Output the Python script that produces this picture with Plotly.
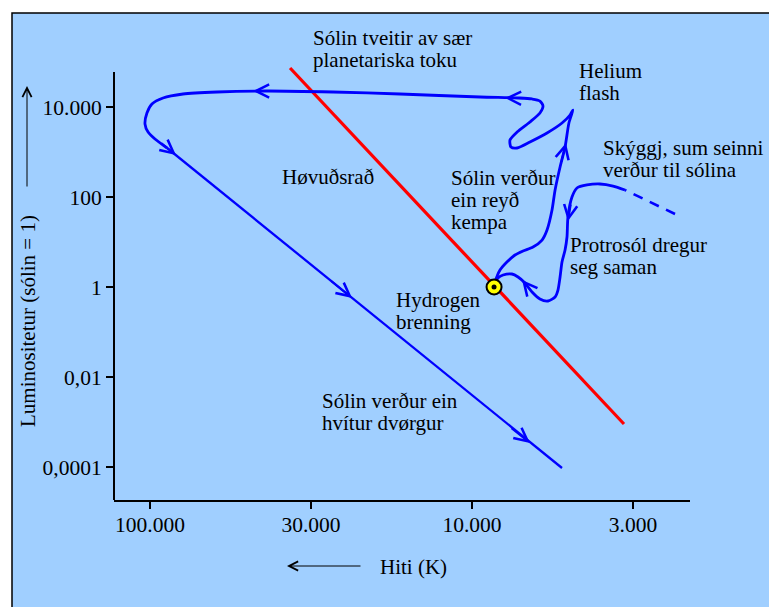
import numpy as np
import plotly.graph_objects as go

# ---------------- data ----------------
# x = position on the (schematic) temperature scale: 0 -> 100.000 K, 1 -> 30.000 K, 2 -> 10.000 K, 3 -> 3.000 K
# y = log10 of luminosity (sun = 1)
temp_ticks = [0, 1, 2, 3]
temp_labels = ["100.000", "30.000", "10.000", "3.000"]
lum_ticks = [1e4, 1e2, 1, 1e-2, 1e-4]
lum_labels = ["10.000", "100", "1", "0,01", "0,0001"]

main_seq_t = [0.870, 2.944]
main_seq_logl = [4.867, -3.044]

sun_t = [2.137]
sun_logl = [0.0]

proto_dash_t = [3.261, 3.106, 2.950]
proto_dash_logl = [1.622, 1.889, 2.156]

proto_t = [2.950, 2.876, 2.795, 2.714, 2.652, 2.621, 2.596, 2.590, 2.578, 2.559, 2.547,
           2.534, 2.516, 2.472, 2.422, 2.373, 2.329, 2.286, 2.248, 2.193, 2.161, 2.137]
proto_logl = [2.156, 2.244, 2.289, 2.267, 2.200, 2.000, 1.556, 1.111, 0.822, 0.556, 0.222,
              -0.067, -0.222, -0.311, -0.267, -0.111, 0.089, 0.222, 0.289, 0.267, 0.200, 0.02]

giant_t = [2.137, 2.143, 2.174, 2.217, 2.267, 2.317, 2.379, 2.435, 2.466, 2.497, 2.516, 2.547,
           2.578, 2.602, 2.627, 2.609, 2.559, 2.466, 2.360, 2.280, 2.242, 2.236, 2.280, 2.360,
           2.422, 2.441, 2.422, 2.373, 2.298, 2.050, 1.553, 1.137, 0.727, 0.416, 0.205, 0.081,
           0.012, -0.019, -0.031, -0.012, 0.031, 0.106]
giant_logl = [0.02, 0.111, 0.378, 0.556, 0.711, 0.800, 0.889, 1.044, 1.267, 1.711, 2.156, 2.667,
              3.111, 3.644, 3.933, 3.822, 3.644, 3.422, 3.222, 3.089, 3.111, 3.267, 3.444, 3.667,
              3.867, 4.022, 4.133, 4.178, 4.200, 4.222, 4.289, 4.333, 4.356, 4.333, 4.289, 4.200,
              4.067, 3.867, 3.622, 3.444, 3.289, 3.089]

dwarf_t = [0.106, 2.559]
dwarf_logl = [3.089, -4.022]

arrow_tip_t = [2.205, 0.640, 0.161, 1.255, 2.360, 2.584, 2.596, 2.311]
arrow_tip_logl = [4.200, 4.356, 2.933, -0.244, -3.467, 3.200, 1.467, 0.156]
arrow_tail_t = [2.329, 0.776, 0.062, 1.118, 2.236, 2.553, 2.615, 2.373]
arrow_tail_logl = [4.193, 4.356, 3.222, 0.156, -3.111, 2.756, 1.867, -0.111]

# ---------------- style / layout ----------------
OFF = 8                      # page body margin
W, H = 777 - OFF, 607 - OFF
X_LEFT, X_RIGHT, Y_TOP, Y_BOT = 114, 690, 62, 500   # plot area in window pixels
PL, PR = X_LEFT - OFF, W - (X_RIGHT - OFF)
PT, PB = Y_TOP - OFF, H - (Y_BOT - OFF)
PLOT_W = X_RIGHT - X_LEFT
PLOT_H = Y_BOT - Y_TOP
BG = "#a0cfff"
BLUE = "#0000ff"
RED = "#ff0000"
FONT = "Liberation Serif, Times New Roman, serif"
FS = 21
TFS = 21.5


def pxx(px):
    return (px - X_LEFT) / PLOT_W


def pxy(py):
    return (Y_BOT - py) / PLOT_H


def lum(a):
    return 10 ** np.array(a, dtype=float)


fig = go.Figure()

fig.add_trace(go.Scatter(x=main_seq_t, y=lum(main_seq_logl), mode="lines",
                         line=dict(color=RED, width=3.2), hoverinfo="skip"))
fig.add_trace(go.Scatter(x=proto_dash_t, y=lum(proto_dash_logl), mode="lines",
                         line=dict(color=BLUE, width=2.6, dash="10px,8px"), hoverinfo="skip"))
fig.add_trace(go.Scatter(x=proto_t, y=lum(proto_logl), mode="lines",
                         line=dict(color=BLUE, width=2.8, shape="spline", smoothing=0.7),
                         hoverinfo="skip"))
fig.add_trace(go.Scatter(x=giant_t, y=lum(giant_logl), mode="lines",
                         line=dict(color=BLUE, width=2.8, shape="spline", smoothing=0.7),
                         hoverinfo="skip"))
fig.add_trace(go.Scatter(x=dwarf_t, y=lum(dwarf_logl), mode="lines",
                         line=dict(color=BLUE, width=2.3), hoverinfo="skip"))
fig.add_trace(go.Scatter(x=sun_t, y=lum(sun_logl), mode="markers",
                         marker=dict(size=15, color="#ffff00", line=dict(color="black", width=2)),
                         hoverinfo="skip"))
fig.add_trace(go.Scatter(x=sun_t, y=lum(sun_logl), mode="markers",
                         marker=dict(size=5, color="black"), hoverinfo="skip"))

annotations = []
for xt, yt, xa, ya in zip(arrow_tip_t, arrow_tip_logl, arrow_tail_t, arrow_tail_logl):
    annotations.append(dict(x=xt, y=yt, ax=xa, ay=ya, xref="x", yref="y", axref="x", ayref="y",
                            text="", showarrow=True, arrowhead=5, arrowsize=1.3, arrowwidth=2,
                            arrowcolor=BLUE, standoff=0))

text_lines = [
    ("Sólin tveitir av sær", 311, 38),
    ("planetariska toku", 311, 60),
    ("Helium", 577, 71),
    ("flash", 577, 93),
    ("Skýggj, sum seinni", 601, 148),
    ("verður til sólina", 601, 170),
    ("Høvuðsrað", 280, 177),
    ("Sólin verður", 449, 178),
    ("ein reyð", 449, 200),
    ("kempa", 449, 222),
    ("Protrosól dregur", 568, 245),
    ("seg saman", 568, 267),
    ("Hydrogen", 394, 300),
    ("brenning", 394, 322),
    ("Sólin verður ein", 320, 401),
    ("hvítur dvørgur", 320, 423),
]
for txt, px, py in text_lines:
    annotations.append(dict(text=txt, x=pxx(px), y=pxy(py), xref="paper", yref="paper",
                            xanchor="left", yanchor="middle", showarrow=False,
                            font=dict(family=FONT, size=FS, color="black")))

# axis titles and their arrows
annotations.append(dict(text="Luminositetur (sólin = 1)", x=pxx(28), y=pxy(321),
                        xref="paper", yref="paper", xanchor="center", yanchor="middle",
                        textangle=-90, showarrow=False,
                        font=dict(family=FONT, size=FS, color="black")))
annotations.append(dict(text="", x=pxx(27), y=pxy(86), xref="paper", yref="paper",
                        ax=0, ay=102, showarrow=True, arrowhead=5, arrowsize=1.8,
                        arrowwidth=1, arrowcolor="black", standoff=0))
annotations.append(dict(text="Hiti (K)", x=pxx(413), y=pxy(567), xref="paper", yref="paper",
                        xanchor="center", yanchor="middle", showarrow=False,
                        font=dict(family=FONT, size=FS, color="black")))
annotations.append(dict(text="", x=pxx(287), y=pxy(566), xref="paper", yref="paper",
                        ax=75, ay=0, showarrow=True, arrowhead=5, arrowsize=1.8,
                        arrowwidth=1, arrowcolor="black", standoff=0))

shapes = [
    dict(type="rect", xref="paper", yref="paper", x0=pxx(12), x1=pxx(800), y0=pxy(640),
         y1=pxy(13), fillcolor=BG, line=dict(color="black", width=1.5), layer="below"),
    dict(type="line", xref="paper", yref="paper", x0=0, x1=0, y0=0, y1=pxy(72),
         line=dict(color="black", width=2)),
]

fig.update_layout(
    width=W, height=H, autosize=False,
    margin=dict(l=PL, r=PR, t=PT, b=PB, pad=0),
    paper_bgcolor="white", plot_bgcolor=BG,
    showlegend=False,
    font=dict(family=FONT, size=FS, color="black"),
    annotations=annotations, shapes=shapes,
    xaxis=dict(range=[(X_LEFT - 150) / 161, (X_RIGHT - 150) / 161], tickvals=temp_ticks,
               ticktext=temp_labels, ticks="outside", ticklen=7, tickwidth=1.5,
               tickcolor="black", showline=True, linecolor="black", linewidth=2,
               showgrid=False, zeroline=False, fixedrange=True, ticklabelstandoff=-3,
               tickfont=dict(family=FONT, size=TFS, color="black")),
    yaxis=dict(type="log", range=[4 - (Y_BOT - 107) / 45, 4 + (107 - Y_TOP) / 45],
               tickvals=lum_ticks, ticktext=lum_labels,
               ticks="outside", ticklen=7, tickwidth=1.5, tickcolor="black",
               showline=False, showgrid=False, zeroline=False, fixedrange=True,
               tickfont=dict(family=FONT, size=TFS, color="black")),
)

fig.write_html("out.html")
